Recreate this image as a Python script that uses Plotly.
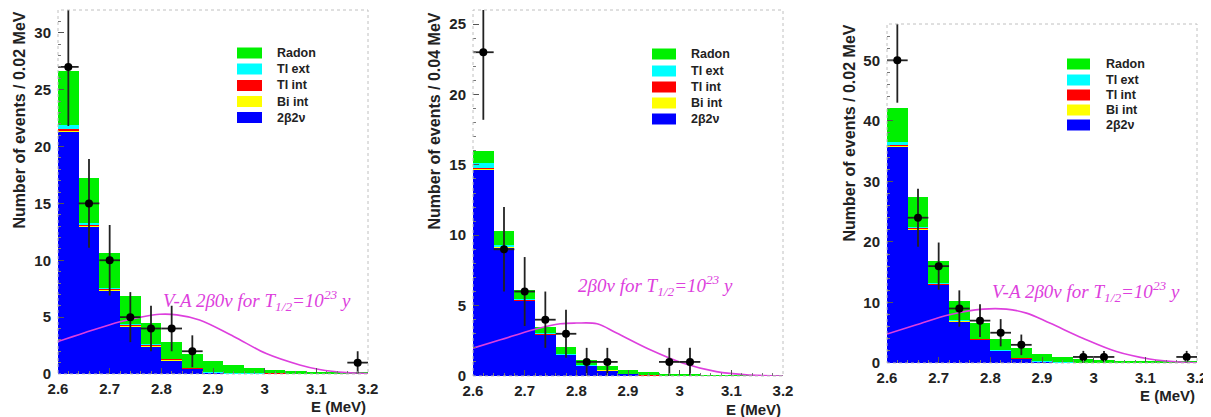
import plotly.graph_objects as go

# browser page offset (default body margin) compensated below
W, H = 1211, 417
OFF = 8
FW, FH = W - OFF, H - OFF

# ---------------- data ----------------
bin_centers = [2.62, 2.66, 2.70, 2.74, 2.78, 2.82, 2.86, 2.90, 2.94, 2.98, 3.02, 3.06, 3.10, 3.14, 3.18]
x_tickvals = [2.6, 2.7, 2.8, 2.9, 3.0, 3.1, 3.2]
x_ticktext = ["2.6", "2.7", "2.8", "2.9", "3", "3.1", "3.2"]

legend_labels = ["Radon", "Tl ext", "Tl int", "Bi int", "2β2ν"]

# Panel 1
A_2b2v = [21.3, 13.0, 7.35, 4.2, 2.45, 1.2, 0.45, 0.12, 0.05, 0.03, 0.02, 0.01, 0.01, 0.0, 0.0]
A_bi = [0.1, 0.05, 0.05, 0.05, 0.05, 0.05, 0.03, 0.02, 0.01, 0.01, 0.01, 0.0, 0.0, 0.0, 0.0]
A_tlint = [0.1, 0.1, 0.1, 0.1, 0.1, 0.08, 0.05, 0.03, 0.02, 0.02, 0.02, 0.01, 0.01, 0.01, 0.01]
A_tlext = [0.4, 0.1, 0.05, 0.03, 0.02, 0.02, 0.01, 0.01, 0.01, 0.01, 0.0, 0.0, 0.0, 0.0, 0.0]
A_radon = [4.7, 3.95, 3.05, 2.5, 1.9, 1.5, 1.2, 0.92, 0.7, 0.45, 0.3, 0.25, 0.18, 0.12, 0.1]
A_data_x = [2.62, 2.66, 2.70, 2.74, 2.78, 2.82, 2.86, 3.18]
A_data_y = [27, 15, 10, 5, 4, 4, 2, 1]
A_data_err = [5.2, 3.9, 3.1, 2.2, 2.0, 2.0, 1.4, 1.0]
A_curve_x = [2.6, 2.65, 2.72, 2.76, 2.797, 2.83, 2.874, 2.94, 3.003, 3.068, 3.106, 3.158, 3.2]
A_curve_y = [2.85, 3.6, 4.6, 5.0, 5.25, 5.2, 4.75, 3.3, 1.8, 0.8, 0.4, 0.12, 0.05]
A_label = "<i>V-A 2β0ν for T<sub>1/2</sub>=10<sup>23</sup> y</i>"
A_ytitle = "Number of events / 0.02 MeV"

# Panel 2
B_2b2v = [14.7, 9.15, 5.35, 2.95, 1.5, 0.72, 0.42, 0.15, 0.05, 0.03, 0.02, 0.01, 0.01, 0.0, 0.0]
B_bi = [0.05, 0.03, 0.03, 0.02, 0.02, 0.01, 0.01, 0.0, 0.0, 0.0, 0.0, 0.0, 0.0, 0.0, 0.0]
B_tlint = [0.05, 0.05, 0.04, 0.03, 0.03, 0.02, 0.01, 0.01, 0.01, 0.0, 0.0, 0.0, 0.0, 0.0, 0.0]
B_tlext = [0.3, 0.1, 0.03, 0.02, 0.01, 0.01, 0.0, 0.0, 0.0, 0.0, 0.0, 0.0, 0.0, 0.0, 0.0]
B_radon = [0.9, 0.97, 0.69, 0.48, 0.49, 0.38, 0.3, 0.27, 0.2, 0.12, 0.08, 0.06, 0.04, 0.05, 0.03]
B_data_x = [2.62, 2.66, 2.70, 2.74, 2.78, 2.82, 2.86, 2.98, 3.02]
B_data_y = [23, 9, 6, 4, 3, 1, 1, 1, 1]
B_data_err = [4.8, 3.0, 2.45, 2.0, 1.7, 1.0, 1.0, 1.0, 1.0]
B_curve_x = [2.6, 2.653, 2.717, 2.769, 2.80, 2.84, 2.878, 2.943, 3.007, 3.071, 3.136, 3.2]
B_curve_y = [1.98, 2.57, 3.29, 3.71, 3.76, 3.71, 3.05, 1.86, 0.9, 0.31, 0.07, 0.0]
B_label = "<i>2β0ν for T<sub>1/2</sub>=10<sup>23</sup> y</i>"
B_ytitle = "Number of events / 0.04 MeV"

# Panel 3
C_2b2v = [35.8, 22.1, 12.9, 6.9, 3.85, 2.0, 0.75, 0.2, 0.07, 0.04, 0.02, 0.01, 0.01, 0.0, 0.0]
C_bi = [0.1, 0.1, 0.1, 0.05, 0.05, 0.05, 0.03, 0.02, 0.01, 0.01, 0.0, 0.0, 0.0, 0.0, 0.0]
C_tlint = [0.1, 0.15, 0.1, 0.1, 0.1, 0.08, 0.05, 0.03, 0.02, 0.02, 0.01, 0.01, 0.01, 0.01, 0.01]
C_tlext = [0.5, 0.15, 0.05, 0.03, 0.02, 0.02, 0.01, 0.01, 0.01, 0.01, 0.0, 0.0, 0.0, 0.0, 0.0]
C_radon = [5.7, 5.0, 3.75, 3.22, 2.58, 1.85, 1.66, 1.24, 0.89, 0.62, 0.47, 0.38, 0.28, 0.19, 0.19]
C_data_x = [2.62, 2.66, 2.70, 2.74, 2.78, 2.82, 2.86, 2.98, 3.02, 3.18]
C_data_y = [50, 24, 16, 9, 7, 5, 3, 1, 1, 1]
C_data_err = [7.0, 4.8, 3.9, 3.0, 2.7, 2.25, 1.7, 1.0, 1.0, 1.0]
C_curve_x = [2.6, 2.657, 2.721, 2.786, 2.831, 2.87, 2.915, 2.979, 3.044, 3.108, 3.173, 3.2]
C_curve_y = [4.78, 6.3, 7.97, 8.9, 8.9, 8.24, 6.6, 4.1, 1.9, 0.66, 0.11, 0.05]
C_label = "<i>V-A 2β0ν for T<sub>1/2</sub>=10<sup>23</sup> y</i>"
C_ytitle = "Number of events / 0.02 MeV"

# ---------------- styling ----------------
COL = {"Radon": "#00f000", "Tl ext": "#00ffff", "Tl int": "#ff0000", "Bi int": "#ffff00", "2β2ν": "#0000ff"}
MAG = "#dd3fdd"
FONT = "Liberation Sans"

def fx(px):
    return (px - OFF) / FW

def fy(py):
    return 1 - (py - OFF) / FH

panels = [
    dict(stack=[A_2b2v, A_bi, A_tlint, A_tlext, A_radon], dx=A_data_x, dy=A_data_y, de=A_data_err,
         cx=A_curve_x, cy=A_curve_y, label=A_label, ytitle=A_ytitle,
         box=(58, 368, 10, 374), yrange=32, ydt=5, ymdt=1, lab_y=6.45,
         leg=(237, 262, [53, 69, 85.5, 101.5, 117.5], 275), yt_x=19, yt_top=10, xt_y=406),
    dict(stack=[B_2b2v, B_bi, B_tlint, B_tlext, B_radon], dx=B_data_x, dy=B_data_y, de=B_data_err,
         cx=B_curve_x, cy=B_curve_y, label=B_label, ytitle=B_ytitle,
         box=(473, 783, 10, 376), yrange=26, ydt=5, ymdt=1, lab_y=6.43,
         leg=(652, 676, [54, 71, 87, 103, 119], 689), yt_x=434, yt_top=11, xt_y=409),
    dict(stack=[C_2b2v, C_bi, C_tlint, C_tlext, C_radon], dx=C_data_x, dy=C_data_y, de=C_data_err,
         cx=C_curve_x, cy=C_curve_y, label=C_label, ytitle=C_ytitle,
         box=(887, 1197, 24, 363), yrange=56, ydt=10, ymdt=2, lab_y=11.8,
         leg=(1067, 1090, [64, 80, 95, 110, 125], 1104), yt_x=849, yt_top=23, xt_y=395),
]

stack_names = ["2β2ν", "Bi int", "Tl int", "Tl ext", "Radon"]

fig = go.Figure()
shapes = []
annotations = []
layout = {}

for i, p in enumerate(panels):
    k = "" if i == 0 else str(i + 1)
    xa, ya = "x" + k, "y" + k
    for name, vals in zip(stack_names, p["stack"]):
        fig.add_trace(go.Bar(x=bin_centers, y=vals, width=0.04, marker=dict(color=COL[name], line=dict(width=0)),
                             xaxis=xa, yaxis=ya, showlegend=False, name=name))
    fig.add_trace(go.Scatter(x=p["cx"], y=p["cy"], mode="lines", line=dict(color=MAG, width=1.6, shape="spline"),
                             xaxis=xa, yaxis=ya, showlegend=False))
    fig.add_trace(go.Scatter(x=p["dx"], y=p["dy"], mode="markers",
                             marker=dict(color="black", size=8),
                             error_y=dict(type="data", array=p["de"], color="#222222", thickness=1.8, width=0),
                             error_x=dict(type="constant", value=0.02, color="#222222", thickness=1.8, width=0),
                             xaxis=xa, yaxis=ya, showlegend=False))
    x0, x1, y0, y1 = p["box"]
    layout["xaxis" + k] = dict(domain=[fx(x0), fx(x1)], range=[2.6, 3.2], anchor=ya, automargin=False,
                               tickvals=x_tickvals, ticktext=x_ticktext, ticks="inside", ticklen=6,
                               tickcolor="#555555", showgrid=False, zeroline=False, showline=False,
                               ticklabelstandoff=4,
                               tickfont=dict(family=FONT, size=15, color="#222222", weight="bold"),
                               minor=dict(dtick=0.02, tick0=2.6, ticks="inside", ticklen=3, tickcolor="#777777"))
    layout["yaxis" + k] = dict(domain=[fy(y1), fy(y0)], range=[0, p["yrange"]], anchor=xa, automargin=False,
                               dtick=p["ydt"], ticks="inside", ticklen=6, tickcolor="#555555",
                               showgrid=False, zeroline=False, showline=False, ticklabelstandoff=6,
                               tickfont=dict(family=FONT, size=15, color="#222222", weight="bold"),
                               minor=dict(dtick=p["ymdt"], ticks="inside", ticklen=3, tickcolor="#777777"))
    # frame
    shapes.append(dict(type="rect", xref="paper", yref="paper", x0=fx(x0), x1=fx(x1), y0=fy(y1), y1=fy(y0),
                       line=dict(color="#c0c0c0", width=1, dash="dot"), layer="above"))
    # curve label
    annotations.append(dict(x=2.80, y=p["lab_y"], xref=xa, yref=ya, text=p["label"], showarrow=False,
                            xanchor="left", yanchor="middle",
                            font=dict(family="Liberation Serif", size=19, color=MAG)))
    # y title
    annotations.append(dict(x=fx(p["yt_x"]), y=fy(p["yt_top"]), xref="paper", yref="paper", text=p["ytitle"],
                            textangle=-90, showarrow=False, xanchor="center", yanchor="top",
                            font=dict(family=FONT, size=16, color="#222222", weight="bold")))
    # x title
    annotations.append(dict(x=fx(x1), y=fy(p["xt_y"]), xref="paper", yref="paper", text="E (MeV)",
                            showarrow=False, xanchor="right", yanchor="middle",
                            font=dict(family=FONT, size=15, color="#222222", weight="bold")))
    # legend
    bx0, bx1, rows, lx = p["leg"]
    for lab, ry in zip(legend_labels, rows):
        shapes.append(dict(type="rect", xref="paper", yref="paper", x0=fx(bx0), x1=fx(bx1),
                           y0=fy(ry + 5.5), y1=fy(ry - 5.5), fillcolor=COL[lab],
                           line=dict(width=0)))
        annotations.append(dict(x=fx(lx), y=fy(ry), xref="paper", yref="paper", text=lab, showarrow=False,
                                xanchor="left", yanchor="middle",
                                font=dict(family=FONT, size=12.5, color="#222222", weight="bold")))

fig.update_layout(
    width=FW, height=FH, margin=dict(l=0, r=0, t=0, b=0),
    paper_bgcolor="white", plot_bgcolor="white",
    barmode="stack", bargap=0, showlegend=False,
    shapes=shapes, annotations=annotations, **layout,
)

fig.write_html("out.html")
